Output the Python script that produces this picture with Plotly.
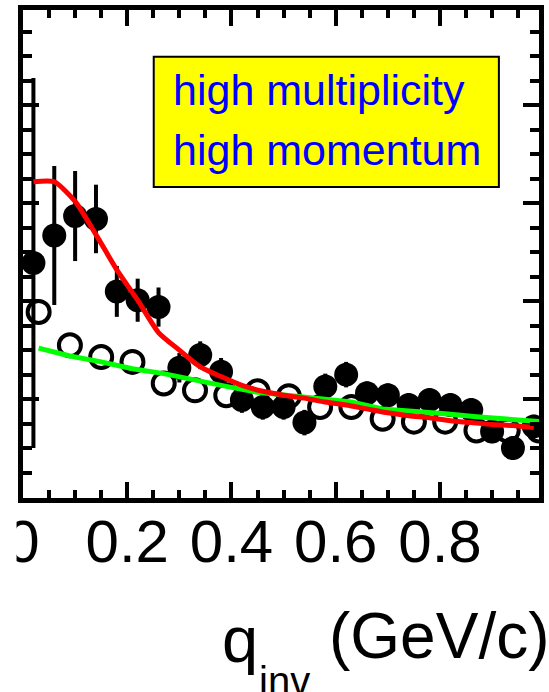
import plotly.graph_objects as go

# Same-event pair correlation (filled), 0.04 GeV/c bins
q_filled = [0.02, 0.06, 0.10, 0.14, 0.18, 0.22, 0.26, 0.30, 0.34, 0.38,
            0.42, 0.46, 0.50, 0.54, 0.58, 0.62, 0.66, 0.70, 0.74, 0.78,
            0.82, 0.86, 0.90, 0.94, 0.98]
c_filled = [1.139, 1.167, 1.187, 1.184, 1.110, 1.101, 1.094, 1.032, 1.045, 1.028,
            0.999, 0.992, 0.992, 0.976, 1.013, 1.025, 1.006, 1.004, 0.994, 0.999,
            0.994, 0.989, 0.967, 0.950, 0.972]
err_filled = [0.189, 0.071, 0.046, 0.035, 0.026, 0.022, 0.020, 0.015, 0.014, 0.014,
              0.013, 0.013, 0.013, 0.013, 0.013, 0.013, 0.012, 0.012, 0.012, 0.012,
              0.012, 0.012, 0.012, 0.012, 0.012]
fit_filled = [1.222, 1.222, 1.202, 1.168, 1.132, 1.101, 1.068, 1.050, 1.033, 1.023,
              1.014, 1.008, 1.004, 1.001, 0.997, 0.994, 0.990, 0.986, 0.983, 0.981,
              0.978, 0.976, 0.974, 0.973, 0.971]

# Reference sample (open), 0.06 GeV/c bins
q_open = [0.03, 0.09, 0.15, 0.21, 0.27, 0.33, 0.39, 0.45, 0.51, 0.57,
          0.63, 0.69, 0.75, 0.81, 0.87, 0.93, 0.99]
c_open = [1.089, 1.055, 1.043, 1.038, 1.016, 1.009, 1.004, 1.008, 1.003, 0.992,
          0.992, 0.980, 0.977, 0.977, 0.968, 0.968, 0.968]
fit_open = [1.052, 1.044, 1.038, 1.031, 1.026, 1.019, 1.013, 1.007, 1.004, 1.001,
            0.997, 0.990, 0.988, 0.985, 0.982, 0.980, 0.977]

x_ticks = [0, 0.2, 0.4, 0.6, 0.8]
x_tick_text = ["0", "0.2", "0.4", "0.6", "0.8"]
box_lines = ["high multiplicity", "high momentum"]

W, H = 549, 692
L, R, T, B = 23, 5, 10, 194
PW, PH = W - L - R, H - T - B


def px(xp):
    return (xp - L) / PW


def py(yp):
    return (H - B - yp) / PH


FONT = "Liberation Sans, Arial, Helvetica, sans-serif"

fig = go.Figure()
fig.add_trace(go.Scatter(
    x=q_open, y=c_open, mode="markers",
    marker=dict(symbol="circle-open", size=22, color="black", line=dict(width=4)),
))
fig.add_trace(go.Scatter(
    x=q_filled, y=c_filled, mode="markers",
    marker=dict(symbol="circle", size=24, color="black"),
    error_y=dict(type="data", array=err_filled, color="black", thickness=4, width=0),
))
fig.add_trace(go.Scatter(x=q_open, y=fit_open, mode="lines",
                         line=dict(color="#00ff00", width=5)))
fig.add_trace(go.Scatter(x=q_filled, y=fit_filled, mode="lines",
                         line=dict(color="#ff0000", width=5, shape="spline", smoothing=0.6)))

fig.update_layout(
    width=W, height=H,
    margin=dict(l=L, r=R, t=T, b=B, pad=0),
    paper_bgcolor="white", plot_bgcolor="white",
    showlegend=False,
)
fig.update_xaxes(
    range=[0, 0.99], showline=True, linecolor="black", linewidth=5,
    mirror="allticks", ticks="inside", ticklen=16, tickwidth=4, tickcolor="black",
    tickmode="array", tickvals=x_ticks, ticktext=x_tick_text,
    tickfont=dict(family=FONT, size=60, color="black"),
    ticklabelstandoff=-13,
    minor=dict(ticks="inside", ticklen=8, tickwidth=3.5, tickcolor="black",
               tick0=0, dtick=0.05, showgrid=False),
    showgrid=False, zeroline=False,
)
fig.update_yaxes(
    range=[0.899, 1.3974], showline=True, linecolor="black", linewidth=5,
    mirror="allticks", ticks="inside", ticklen=16, tickwidth=4, tickcolor="black",
    tick0=0.9, dtick=0.1, showticklabels=False,
    minor=dict(ticks="inside", ticklen=9, tickwidth=3.5, tickcolor="black",
               tick0=0.9, dtick=0.025, showgrid=False),
    showgrid=False, zeroline=False,
)

# label box
fig.add_shape(type="rect", xref="paper", yref="paper",
              x0=px(155), x1=px(503.5), y0=py(187), y1=py(56.7),
              fillcolor="#ffff00", line=dict(color="black", width=2), layer="above")
for text, base in zip(box_lines, [105, 165]):
    fig.add_annotation(text=text, xref="paper", yref="paper",
                       x=px(172), y=py(base - 0.3465 * 43),
                       xanchor="left", yanchor="middle", showarrow=False,
                       font=dict(family=FONT, size=43, color="#0000ff"))

# left edge of the figure trims the first tick label
fig.add_shape(type="rect", xref="paper", yref="paper",
              x0=px(-5), x1=px(16.5), y0=py(600), y1=py(506),
              fillcolor="white", line=dict(width=0), layer="above")

# axis title q_inv (GeV/c)
fig.add_annotation(text="q", xref="paper", yref="paper",
                   x=px(222), y=py(662 - 0.3465 * 65), xanchor="left", yanchor="middle",
                   showarrow=False, font=dict(family=FONT, size=65, color="black"))
fig.add_annotation(text="inv", xref="paper", yref="paper",
                   x=px(259), y=py(695 - 0.3465 * 40), xanchor="left", yanchor="middle",
                   showarrow=False, font=dict(family=FONT, size=40, color="black"))
fig.add_annotation(text="(GeV/c)", xref="paper", yref="paper",
                   x=px(330), y=py(658 - 0.3465 * 64), xanchor="left", yanchor="middle",
                   showarrow=False, font=dict(family=FONT, size=64, color="black"))

fig.write_html("out.html")
